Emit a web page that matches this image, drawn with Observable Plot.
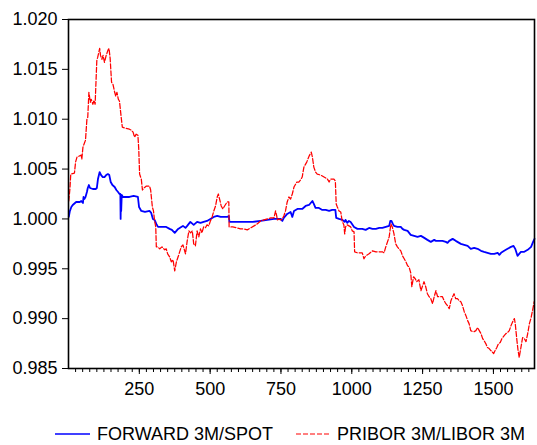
<!DOCTYPE html>
<html><head><meta charset="utf-8">
<script src="https://cdn.jsdelivr.net/npm/d3@7"></script>
<script src="https://cdn.jsdelivr.net/npm/@observablehq/plot@0.6"></script>
<style>
body{margin:0;background:#fff;font-family:"Liberation Sans",Arial,sans-serif;}
#wrap{position:relative;width:537px;height:445px;overflow:hidden;background:#fff;}
#wrap svg{display:block;}
.leg{position:absolute;top:424px;height:20px;font-size:18px;line-height:20px;display:flex;align-items:center;white-space:nowrap;color:#000;}
.leg svg{margin-right:7px;}
</style></head><body><div id="wrap"></div>
<script>
const seriesNames = ["FORWARD 3M/SPOT", "PRIBOR 3M/LIBOR 3M"];
const xMajorTicks = [250, 500, 750, 1000, 1250, 1500];
const yTicks = [0.985, 0.990, 0.995, 1.000, 1.005, 1.010, 1.015, 1.020];

const fwdObs = [1,5,10,15,27,40,45,51,53,56,60,65,68,72,76,86,96,100,104,110,115,121,127,133,139,144,149,155,163,169,175,180,183,184,185,186,188,192,200,215,230,245,249,257,270,286,292,298,304,310,316,330,345,357,365,375,387,398,404,413,419,430,442,454,466,477,489,501,513,525,537,549,560,566,568,590,620,650,678,702,725,749,755,760,772,784,790,796,808,825,837,849,861,866,872,884,896,908,920,931,942,945,955,967,975,978,984,990,996,1008,1020,1037,1049,1061,1073,1085,1097,1108,1120,1132,1136,1140,1145,1149,1161,1173,1179,1185,1197,1208,1220,1232,1244,1256,1267,1273,1279,1285,1291,1297,1309,1320,1332,1338,1344,1356,1367,1379,1385,1397,1409,1420,1432,1444,1456,1467,1479,1491,1503,1515,1521,1527,1538,1550,1562,1571,1577,1585,1591,1597,1609,1621,1633,1640,1645];
const fwdVal = [1.0002,1.0008,1.0012,1.0014,1.0017,1.0017,1.0018,1.0016,1.0022,1.0020,1.0022,1.0027,1.0031,1.0034,1.0031,1.0030,1.0030,1.0031,1.0040,1.0047,1.0044,1.0042,1.0042,1.0044,1.0045,1.0044,1.0037,1.0034,1.0032,1.0029,1.0027,1.0025,1.0025,1.0000,1.0023,1.0008,1.0024,1.0022,1.0022,1.0022,1.0023,1.0022,1.0012,1.0008,1.0007,1.0008,1.0006,1.0000,0.9999,0.9995,0.9992,0.9992,0.9992,0.9990,0.9989,0.9986,0.9990,0.9992,0.9993,0.9991,0.9993,0.9997,0.9994,0.9997,0.9996,0.9997,0.9998,1.0000,1.0002,1.0003,1.0002,1.0002,1.0002,1.0003,0.9997,0.9997,0.9997,0.9997,0.9998,0.9999,1.0000,1.0000,0.9998,1.0001,1.0005,1.0007,1.0002,1.0008,1.0010,1.0010,1.0013,1.0014,1.0018,1.0015,1.0011,1.0011,1.0009,1.0009,1.0008,1.0009,1.0009,1.0001,1.0000,0.9999,0.9997,0.9999,0.9996,0.9998,0.9997,0.9992,0.9990,0.9990,0.9989,0.9991,0.9990,0.9990,0.9991,0.9991,0.9992,0.9993,0.9998,0.9998,0.9995,0.9993,0.9992,0.9992,0.9990,0.9989,0.9988,0.9984,0.9983,0.9982,0.9983,0.9981,0.9979,0.9978,0.9977,0.9978,0.9979,0.9978,0.9978,0.9978,0.9977,0.9976,0.9978,0.9980,0.9978,0.9976,0.9975,0.9974,0.9973,0.9970,0.9971,0.9970,0.9968,0.9967,0.9966,0.9965,0.9965,0.9966,0.9964,0.9966,0.9968,0.9970,0.9972,0.9973,0.9970,0.9963,0.9965,0.9967,0.9967,0.9969,0.9972,0.9977,0.9980];

const priObs = [1,5,8,21,25,30,45,47,51,60,65,68,72,77,80,86,90,94,100,103,110,113,118,122,127,133,139,143,147,152,157,163,167,171,176,180,186,190,200,215,222,228,233,239,245,248,251,257,261,266,275,286,290,296,300,304,308,310,315,322,330,340,345,350,357,363,369,375,381,387,398,404,410,413,419,425,431,437,442,448,454,460,466,471,477,483,489,495,501,507,513,519,525,529,535,539,545,551,560,566,567,580,595,607,619,631,643,655,666,678,690,702,714,725,731,735,737,743,749,755,760,766,772,778,784,790,796,802,806,813,819,825,831,837,841,845,851,857,861,866,872,878,890,902,914,920,925,937,942,945,949,955,961,966,972,975,978,984,996,1002,1008,1010,1020,1037,1043,1049,1061,1073,1085,1097,1108,1114,1120,1126,1132,1138,1143,1149,1155,1161,1167,1173,1179,1185,1191,1197,1202,1208,1212,1218,1224,1229,1237,1244,1250,1255,1261,1267,1273,1279,1285,1291,1297,1303,1309,1320,1326,1332,1338,1344,1350,1356,1361,1367,1373,1379,1385,1391,1397,1403,1409,1414,1420,1426,1432,1438,1444,1450,1456,1462,1467,1473,1479,1485,1491,1501,1506,1512,1518,1524,1530,1538,1544,1550,1556,1562,1568,1574,1577,1583,1587,1591,1597,1603,1609,1615,1621,1627,1633,1638,1644];
const priVal = [1.0018,1.0030,1.0045,1.0046,1.0057,1.0062,1.0064,1.0060,1.0072,1.0079,1.0100,1.0102,1.0127,1.0117,1.0120,1.0115,1.0119,1.0115,1.0159,1.0162,1.0171,1.0164,1.0160,1.0164,1.0157,1.0164,1.0169,1.0171,1.0161,1.0137,1.0135,1.0127,1.0123,1.0127,1.0120,1.0118,1.0102,1.0092,1.0091,1.0090,1.0089,1.0087,1.0082,1.0085,1.0084,1.0070,1.0045,1.0040,1.0029,1.0031,1.0033,1.0033,1.0029,1.0012,1.0008,0.9998,0.9992,0.9972,0.9972,0.9970,0.9972,0.9969,0.9970,0.9965,0.9962,0.9957,0.9959,0.9948,0.9957,0.9962,0.9972,0.9974,0.9968,0.9965,0.9978,0.9988,0.9986,0.9988,0.9975,0.9973,0.9988,0.9982,0.9990,0.9986,0.9992,0.9991,0.9994,0.9993,0.9998,1.0002,1.0008,1.0013,1.0022,1.0025,1.0018,1.0013,1.0010,1.0013,1.0017,1.0017,0.9992,0.9992,0.9991,0.9990,0.9990,0.9989,0.9991,0.9993,0.9995,0.9998,0.9999,1.0000,1.0001,1.0001,1.0008,1.0003,0.9999,1.0000,0.9999,1.0000,1.0003,1.0008,1.0017,1.0022,1.0020,1.0025,1.0032,1.0035,1.0037,1.0037,1.0039,1.0042,1.0052,1.0055,1.0057,1.0060,1.0064,1.0067,1.0062,1.0052,1.0047,1.0045,1.0044,1.0042,1.0040,1.0037,1.0040,1.0040,1.0038,1.0015,1.0012,1.0008,1.0007,0.9998,0.9994,0.9985,0.9992,0.9994,0.9992,0.9988,0.9987,0.9967,0.9966,0.9966,0.9960,0.9963,0.9965,0.9968,0.9967,0.9967,0.9967,0.9966,0.9972,0.9977,0.9982,0.9995,0.9992,0.9985,0.9975,0.9972,0.9970,0.9968,0.9963,0.9960,0.9957,0.9953,0.9952,0.9946,0.9932,0.9942,0.9940,0.9937,0.9939,0.9928,0.9933,0.9937,0.9932,0.9925,0.9922,0.9920,0.9915,0.9922,0.9928,0.9922,0.9922,0.9922,0.9918,0.9915,0.9913,0.9910,0.9918,0.9922,0.9925,0.9920,0.9920,0.9918,0.9917,0.9913,0.9907,0.9903,0.9898,0.9895,0.9888,0.9887,0.9887,0.9888,0.9891,0.9888,0.9885,0.9880,0.9878,0.9875,0.9871,0.9870,0.9868,0.9865,0.9868,0.9871,0.9875,0.9876,0.9880,0.9883,0.9885,0.9886,0.9888,0.9893,0.9897,0.9900,0.9895,0.9878,0.9868,0.9861,0.9871,0.9881,0.9880,0.9877,0.9885,0.9895,0.9901,0.9908,0.9917];

const fwd = fwdObs.map((x, i) => ({x, y: fwdVal[i]}));
const pri = priObs.map((x, i) => ({x, y: priVal[i]}));
const minorTicks = d3.range(25, 1645, 25);

const plot = Plot.plot({
  width: 537,
  height: 400,
  marginLeft: 68,
  marginRight: 3,
  marginTop: 19,
  marginBottom: 32,
  style: {fontFamily: "'Liberation Sans', Arial, sans-serif", fontSize: "18px", background: "#fff", color: "#000", overflow: "visible"},
  x: {domain: [0, 1645]},
  y: {domain: [0.985, 1.020]},
  marks: [
    Plot.line(fwd, {x: "x", y: "y", stroke: "#0000ff", strokeWidth: 1.8}),
    Plot.line(pri, {x: "x", y: "y", stroke: "#ff0000", strokeWidth: 1.25, strokeDasharray: "5,2"}),
    Plot.frame({stroke: "#000", strokeWidth: 1.6}),
    Plot.axisY({ticks: yTicks, tickFormat: d3.format(".3f"), tickSize: 6, tickPadding: 5, fontSize: 18, label: null, stroke: "#000"}),
    Plot.axisX({ticks: minorTicks, tickSize: 4, text: null, label: null, stroke: "#000"}),
    Plot.axisX({ticks: xMajorTicks, tickFormat: d3.format("d"), tickSize: 6, tickPadding: 8, fontSize: 18, label: null, stroke: "#000"})
  ]
});
const wrap = document.getElementById("wrap");
wrap.appendChild(plot);

const legendDefs = [
  {name: seriesNames[0], color: "#0000ff", dash: null, left: 55, w: 35, sw: 1.4},
  {name: seriesNames[1], color: "#ff0000", dash: "5,2", left: 296, w: 34, sw: 1.2}
];
legendDefs.forEach(d => {
  const item = document.createElement("div");
  item.className = "leg";
  item.style.left = d.left + "px";
  item.innerHTML = `<svg width="${d.w}" height="4"><line x1="0" x2="${d.w}" y1="2" y2="2" stroke="${d.color}" stroke-width="${d.sw}" ${d.dash ? `stroke-dasharray="${d.dash}"` : ""}/></svg><span></span>`;
  item.querySelector("span").textContent = d.name;
  wrap.appendChild(item);
});
</script>
</body></html>
